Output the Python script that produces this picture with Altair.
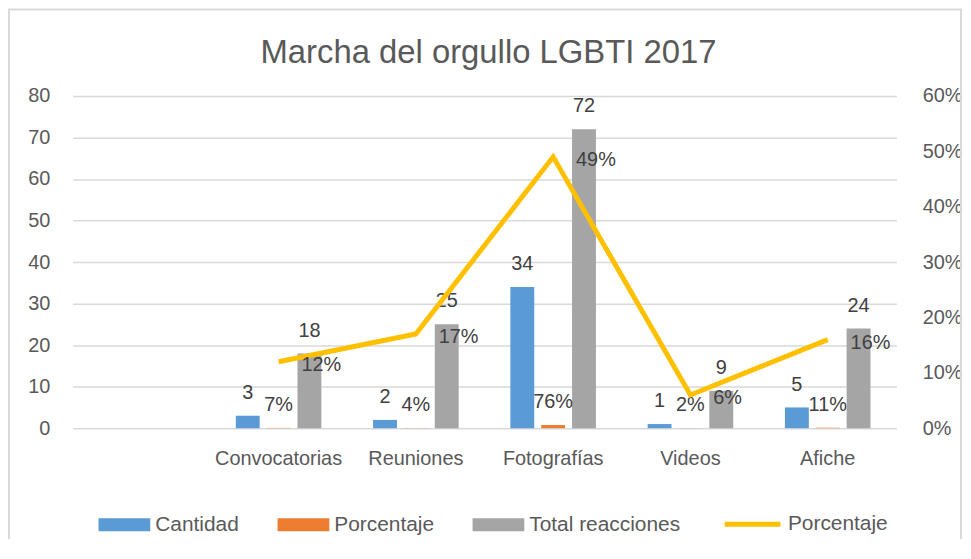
import altair as alt
import pandas as pd

# ---- data ----
categorias = [" ", "Convocatorias", "Reuniones", "Fotografías", "Videos", "Afiche"]
cats_datos = ["Convocatorias", "Reuniones", "Fotografías", "Videos", "Afiche"]
cantidad = [3, 2, 34, 1, 5]
porcentaje_barra = [0.07, 0.04, 0.76, 0.02, 0.11]
total_reacciones = [18, 25, 72, 9, 24]
porcentaje_linea = [0.12, 0.17, 0.49, 0.06, 0.16]
series_barras = ["Cantidad", "Porcentaje", "Total reacciones"]
serie_linea = "Porcentaje"
ticks_izq = [0, 10, 20, 30, 40, 50, 60, 70, 80]
ticks_der = [0, 0.1, 0.2, 0.3, 0.4, 0.5, 0.6]
titulo = "Marcha del orgullo LGBTI 2017"

colores_barras = ["#5B9BD5", "#ED7D31", "#A5A5A5"]
color_linea = "#FFC000"
FONT = "Liberation Sans"
GRIS_TXT = "#595959"
GRIS_LBL = "#404040"
GRID = "#D9D9D9"

rows = []
for i, c in enumerate(cats_datos):
    rows.append({"cat": c, "serie": "Cantidad", "valor": cantidad[i], "etiqueta": str(cantidad[i])})
    rows.append({"cat": c, "serie": "Porcentaje", "valor": porcentaje_barra[i],
                 "etiqueta": f"{round(porcentaje_barra[i] * 100)}%"})
    rows.append({"cat": c, "serie": "Total reacciones", "valor": total_reacciones[i],
                 "etiqueta": str(total_reacciones[i])})
df_barras = pd.DataFrame(rows)

df_linea = pd.DataFrame({
    "cat": cats_datos,
    "valor": porcentaje_linea,
    "serie": [serie_linea] * len(cats_datos),
    "etiqueta": [f"{round(v * 100)}%" for v in porcentaje_linea],
})

x_enc = alt.X("cat:N", sort=categorias,
              scale=alt.Scale(domain=categorias, paddingInner=0, paddingOuter=0),
              axis=alt.Axis(title=None, labelAngle=0, labelPadding=21, ticks=False,
                            tickSize=0, domain=False, grid=False, labelFontSize=20))
xoff_enc = alt.XOffset("serie:N",
                       scale=alt.Scale(domain=series_barras, paddingInner=0.226, paddingOuter=0.838))
y_izq = alt.Y("valor:Q", scale=alt.Scale(domain=[0, 80], nice=False),
              axis=alt.Axis(title=None, values=ticks_izq, grid=True, gridColor=GRID, gridWidth=1.5,
                            labelPadding=23, ticks=False, tickSize=0, domain=False, labelFontSize=20))
y_der = alt.Y("valor:Q", scale=alt.Scale(domain=[0, 0.6], nice=False),
              axis=alt.Axis(title=None, orient="right", format="%", values=ticks_der, grid=False,
                            labelPadding=26, ticks=False, tickSize=0, domain=False, labelFontSize=20))

barras = alt.Chart(df_barras).mark_bar().encode(
    x=x_enc, xOffset=xoff_enc, y=y_izq,
    color=alt.Color("serie:N",
                    scale=alt.Scale(domain=series_barras, range=colores_barras),
                    legend=alt.Legend(orient="none", direction="horizontal", legendX=26, legendY=405,
                                      symbolType="M-1,-0.25H1V0.25H-1Z", symbolSize=2704,
                                      symbolStrokeWidth=0, columnPadding=38, labelOffset=5,
                                      labelFontSize=21, labelFont=FONT, labelColor=GRIS_TXT,
                                      title=None, padding=0)),
)
txt_barras = alt.Chart(df_barras).mark_text(
    fontSize=20, font=FONT, color=GRIS_LBL, baseline="middle", dy=-23
).encode(x=x_enc, xOffset=xoff_enc, y=y_izq, text="etiqueta:N")

linea = alt.Chart(df_linea).mark_line(strokeWidth=5).encode(
    x=x_enc, y=y_der,
    stroke=alt.Stroke("serie:N", scale=alt.Scale(domain=[serie_linea], range=[color_linea]),
                      legend=alt.Legend(orient="none", legendX=653, legendY=400, symbolType="stroke",
                                        symbolSize=3136, symbolStrokeWidth=5, labelOffset=5,
                                        labelFontSize=21, labelFont=FONT, labelColor=GRIS_TXT,
                                        title=None, padding=0)),
)
txt_linea = alt.Chart(df_linea).mark_text(
    fontSize=20, font=FONT, color=GRIS_LBL, align="left", baseline="middle", dx=23, dy=3
).encode(x=x_enc, y=y_der, text="etiqueta:N")

marco_df = pd.DataFrame({"k": [0]})
marco_izq = alt.Chart(marco_df).mark_rule(color=GRID, strokeWidth=2).encode(
    x=alt.value(-64), y=alt.value(-87), y2=alt.value(450))
marco_sup = alt.Chart(marco_df).mark_rule(color=GRID, strokeWidth=2).encode(
    x=alt.value(-65), x2=alt.value(894), y=alt.value(-87))
marco_der = alt.Chart(marco_df).mark_rule(color=GRID, strokeWidth=2).encode(
    x=alt.value(893), y=alt.value(-87), y2=alt.value(450))

izq = alt.layer(barras, txt_barras)
der = alt.layer(linea, txt_linea)

chart = alt.layer(izq, der, marco_izq, marco_sup, marco_der).resolve_scale(
    y="independent"
).properties(
    width=828, height=334,
    autosize=alt.AutoSizeParams(type="none"),
    padding={"left": 65, "top": 87, "right": 67, "bottom": 110},
    title=alt.TitleParams(titulo, fontSize=33, font=FONT, color=GRIS_TXT, fontWeight="normal",
                          anchor="middle", frame="group", offset=0, dy=62, dx=4),
).configure_view(stroke=None).configure_axis(
    labelFont=FONT, labelColor=GRIS_TXT
)

chart.save("out.html", embed_options={"renderer": "svg", "actions": False})
